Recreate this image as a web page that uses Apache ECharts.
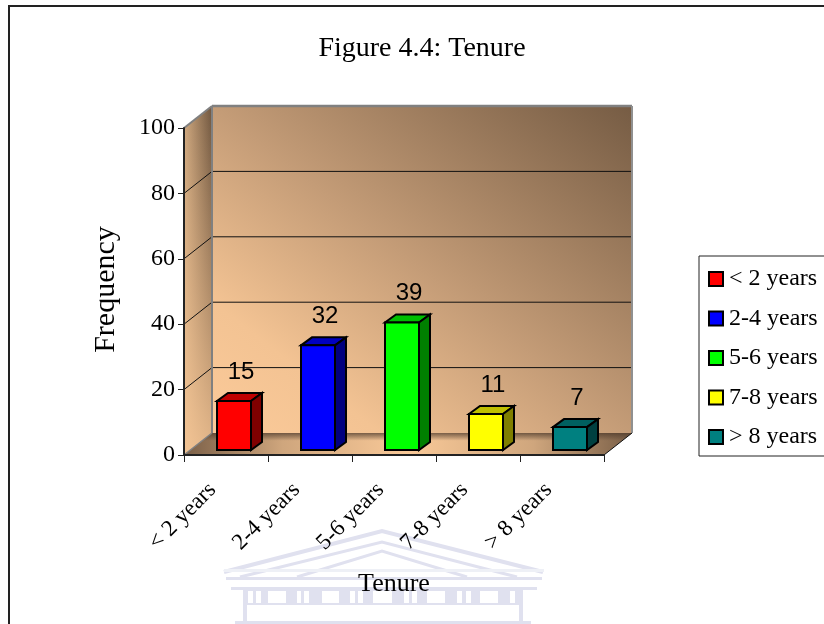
<!DOCTYPE html>
<html>
<head>
<meta charset="utf-8">
<style>html,body{margin:0;padding:0;background:#fff;overflow:hidden}#main{width:824px;height:624px}</style>
<script src="https://cdn.jsdelivr.net/npm/echarts@6/dist/echarts.min.js"></script>
</head>
<body>
<div id="main"></div>
<script>
var categories = ['< 2 years', '2-4 years', '5-6 years', '7-8 years', '> 8 years'];
var frequency = [15, 32, 39, 11, 7];
var yTicks = [0, 20, 40, 60, 80, 100];
var frontColors = ['#ff0000', '#0000ff', '#00ff00', '#ffff00', '#008080'];
var topColors = ['#bf0000', '#0000bf', '#00bf00', '#bfbf00', '#006060'];
var sideColors = ['#7f0000', '#00007f', '#007f00', '#7f7f00', '#004040'];

var serif = '"Liberation Serif"';
var sans = '"Liberation Sans"';
var depthX = 28, depthY = 22;   // box depth
var barW = 34, barSide = 11, barRise = 8, barInX = 8, barInY = 5;

var myChart = echarts.init(document.getElementById('main'));

function grad(x, y, x2, y2, stops) {
    return new echarts.graphic.LinearGradient(x, y, x2, y2, stops.map(function (s) {
        return { offset: s[0], color: s[1] };
    }));
}

function poly(points, fill, stroke, width) {
    return {
        type: 'polygon',
        shape: { points: points },
        style: { fill: fill, stroke: stroke || 'none', lineWidth: width || 0 }
    };
}

function line(a, b, color, width) {
    return {
        type: 'line',
        shape: { x1: a[0], y1: a[1], x2: b[0], y2: b[1] },
        style: { stroke: color, lineWidth: width }
    };
}

// the walls and floor of the box
function renderWalls(params, api) {
    var sys = params.coordSys;
    var x0 = sys.x, x1 = sys.x + sys.width;
    var yBottom = api.coord([0, 0])[1];
    var yTop = api.coord([0, yTicks[yTicks.length - 1]])[1];
    var side = [[x0, yTop], [x0 + depthX, yTop - depthY], [x0 + depthX, yBottom - depthY], [x0, yBottom]];
    var floor = [[x0, yBottom], [x1, yBottom], [x1 + depthX, yBottom - depthY], [x0 + depthX, yBottom - depthY]];
    var kids = [];

    kids.push(poly(side, grad(0, 0, 1, 0, [[0, '#cfa87f'], [1, '#6f563f']])));
    kids.push(poly(side, grad(0, 0, 0, 1, [[0, 'rgba(249,201,152,0)'], [1, 'rgba(249,201,152,0.85)']])));
    kids.push(poly([[x0 + depthX, yTop - depthY], [x1 + depthX, yTop - depthY], [x1 + depthX, yBottom - depthY], [x0 + depthX, yBottom - depthY]],
        grad(0.122, 1.12, 0.878, -0.12, [[0, '#fbca99'], [0.2, '#f3c393'], [0.5, '#c49c77'], [1, '#765c44']])));
    kids.push(poly(floor, grad(0, 0, 1, 0, [[0, '#7a5f47'], [0.22, '#cfa67d'], [0.5, '#f9c998'], [0.78, '#cfa67d'], [1, '#7a5f47']])));
    kids.push(poly(floor, grad(0, 0, 0, 1, [[0, 'rgba(80,60,45,0.75)'], [0.35, 'rgba(80,60,45,0)'], [1, 'rgba(80,60,45,0)']])));

    yTicks.forEach(function (v) {
        if (v === 0 || v === yTicks[yTicks.length - 1]) return;
        var y = api.coord([0, v])[1];
        kids.push(line([x0, y], [x0 + depthX, y - depthY], '#111', 1));
        kids.push(line([x0 + depthX, y - depthY], [x1 + depthX, y - depthY], '#111', 1));
    });

    kids.push(line([x0, yTop], [x0 + depthX, yTop - depthY], '#808080', 2));
    kids.push(line([x0 + depthX, yTop - depthY], [x1 + depthX, yTop - depthY], '#808080', 2.5));
    kids.push(line([x1 + depthX, yTop - depthY], [x1 + depthX, yBottom - depthY], '#909090', 2));
    kids.push(line([x0 + depthX, yTop - depthY], [x0 + depthX, yBottom - depthY], '#808080', 2));
    kids.push(line([x0, yBottom], [x0 + depthX, yBottom - depthY], '#808080', 1.5));
    kids.push(line([x1, yBottom], [x1 + depthX, yBottom - depthY], '#111', 1));
    return { type: 'group', children: kids };
}

function renderBar(i) {
    return function (params, api) {
        var top = api.coord([api.value(0), api.value(1)]);
        var base = api.coord([api.value(0), 0]);
        var l = top[0] + barInX - barW / 2, r = l + barW;
        var yT = top[1] - barInY, yB = base[1] - barInY;
        return {
            type: 'group',
            children: [
                poly([[l, yT], [r, yT], [r + barSide, yT - barRise], [l + barSide, yT - barRise]], topColors[i], '#000', 2),
                poly([[r, yT], [r + barSide, yT - barRise], [r + barSide, yB - barRise], [r, yB]], sideColors[i], '#000', 2),
                poly([[l, yT], [r, yT], [r, yB], [l, yB]], frontColors[i], '#000', 2),
                {
                    type: 'text',
                    style: {
                        x: r - barW / 2 + 7, y: yT - 29, text: String(api.value(1)),
                        fill: '#000', font: '24px ' + sans, align: 'center', verticalAlign: 'middle'
                    }
                }
            ]
        };
    };
}

// faint crest behind the bottom of the chart
var crestColor = '#e0e1ef';
var crest = [
    { type: 'polyline', shape: { points: [[224, 572], [382, 531], [543, 572]] }, style: { stroke: crestColor, lineWidth: 4, fill: 'none' } },
    { type: 'polyline', shape: { points: [[240, 577], [382, 542], [517, 577]] }, style: { stroke: crestColor, lineWidth: 3, fill: 'none' } },
    { type: 'polyline', shape: { points: [[297, 577], [382, 551], [467, 577]] }, style: { stroke: crestColor, lineWidth: 3, fill: 'none' } },
    { type: 'rect', shape: { x: 224, y: 569, width: 320, height: 3 }, style: { fill: '#eef0f6' } },
    { type: 'rect', shape: { x: 226, y: 577, width: 316, height: 3 }, style: { fill: crestColor } },
    { type: 'rect', shape: { x: 231, y: 587, width: 306, height: 3 }, style: { fill: crestColor } },
    { type: 'rect', shape: { x: 243, y: 590, width: 280, height: 15 }, style: { fill: crestColor } },
    { type: 'rect', shape: { x: 243, y: 603, width: 4, height: 18 }, style: { fill: crestColor } },
    { type: 'rect', shape: { x: 519, y: 603, width: 4, height: 18 }, style: { fill: crestColor } },
    { type: 'rect', shape: { x: 235, y: 621, width: 296, height: 3 }, style: { fill: crestColor } }
];
[[268, 18], [322, 17], [373, 19], [427, 18], [480, 18],
 [248, 5], [256, 5], [297, 4], [304, 5], [350, 5], [358, 5], [404, 5], [412, 5], [457, 5], [466, 5], [510, 5]].forEach(function (w) {
    crest.push({ type: 'rect', shape: { x: w[0], y: 591, width: w[1], height: 12 }, style: { fill: '#fff' } });
});
crest.forEach(function (el) { el.silent = true; el.z = -10; });

var series = [{
    type: 'custom',
    silent: true,
    z: 2,
    clip: false,
    renderItem: renderWalls,
    data: [[categories[0], 0]]
}];
categories.forEach(function (name, i) {
    series.push({
        name: name,
        type: 'custom',
        silent: true,
        z: 5,
        clip: false,
        itemStyle: { color: frontColors[i] },
        renderItem: renderBar(i),
        encode: { x: 0, y: 1 },
        data: [[name, frequency[i]]]
    });
});

var option = {
    animation: false,
    backgroundColor: '#fff',
    title: {
        text: 'Figure 4.4: Tenure',
        left: 417,
        top: 30,
        textAlign: 'center',
        textStyle: { fontFamily: serif, fontSize: 28, fontWeight: 'normal', color: '#000' }
    },
    graphic: {
        elements: crest.concat([{
            type: 'rect',
            silent: true,
            z: 20,
            shape: { x: 9, y: 6, width: 900, height: 800 },
            style: { fill: 'none', stroke: '#222', lineWidth: 2 }
        }])
    },
    legend: {
        data: categories,
        orient: 'vertical',
        left: 699,
        top: 256,
        padding: [11, 30, 7, 9],
        icon: 'rect',
        itemWidth: 14,
        itemHeight: 14,
        itemGap: 15.5,
        selectedMode: false,
        backgroundColor: '#fff',
        borderColor: '#222',
        borderWidth: 1,
        itemStyle: { borderColor: '#000', borderWidth: 2 },
        textStyle: { fontFamily: serif, fontSize: 24, color: '#000', padding: [18, 0, 0, 1] }
    },
    grid: { left: 184, right: 220, top: 128, bottom: 169, outerBoundsMode: 'none' },
    xAxis: {
        type: 'category',
        data: categories,
        z: 3,
        name: 'Tenure',
        nameLocation: 'middle',
        nameGap: 116,
        nameTextStyle: { fontFamily: serif, fontSize: 26, color: '#000' },
        axisLine: { lineStyle: { color: '#222', width: 2 } },
        axisTick: { show: true, length: 7, alignWithLabel: false, lineStyle: { color: '#222', width: 1 } },
        axisLabel: {
            interval: 0, rotate: 45, margin: 18, padding: [0, 19, 0, 0],
            fontFamily: serif, fontSize: 23, color: '#000'
        }
    },
    yAxis: {
        type: 'value',
        min: 0,
        max: 100,
        interval: 20,
        z: 3,
        name: 'Frequency',
        nameLocation: 'middle',
        nameRotate: 90,
        nameGap: 63,
        nameTextStyle: { fontFamily: serif, fontSize: 30, color: '#000', padding: [0, 0, 0, 4] },
        splitLine: { show: false },
        axisLine: { show: true, lineStyle: { color: '#222', width: 2 } },
        axisTick: { show: true, length: 6, lineStyle: { color: '#222', width: 1 } },
        axisLabel: { margin: 9, fontFamily: serif, fontSize: 24, color: '#000' }
    },
    series: series
};
myChart.setOption(option);
</script>
</body>
</html>
